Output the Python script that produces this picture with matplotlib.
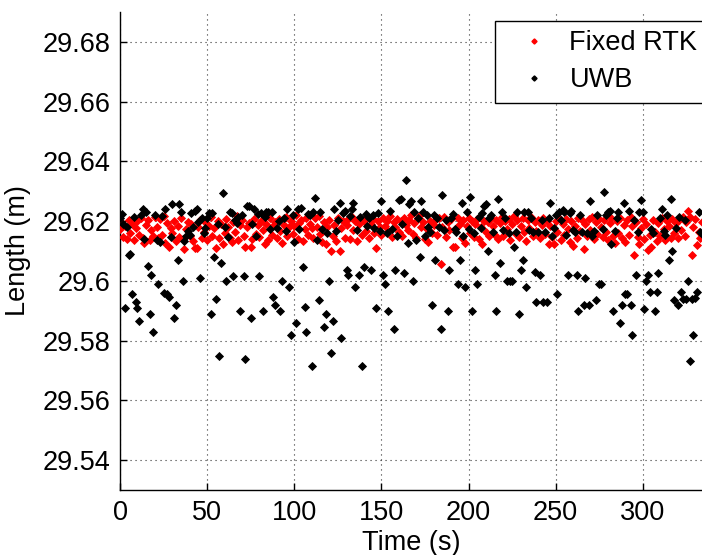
import numpy as np
import matplotlib
matplotlib.use("Agg")
import matplotlib.pyplot as plt
from matplotlib.lines import Line2D

plt.rcParams['font.family'] = ['Liberation Sans', 'DejaVu Sans']

# Fixed RTK length, one sample per second (t = 0..334)
rtk_values = [
    29.6172, 29.6195, 29.6148, 29.6183, 29.6140, 29.6205, 29.6160, 29.6190, 29.6138, 29.6176,
    29.6200, 29.6152, 29.6212, 29.6145, 29.6127, 29.6188, 29.6203, 29.6136, 29.6170, 29.6150,
    29.6215, 29.6180, 29.6142, 29.6208, 29.6155, 29.6218, 29.6127, 29.6195, 29.6115, 29.6178,
    29.6160, 29.6202, 29.6133, 29.6185, 29.6148, 29.6210, 29.6140, 29.6108, 29.6172, 29.6196,
    29.6150, 29.6190, 29.6135, 29.6110, 29.6110, 29.6182, 29.6205, 29.6145, 29.6165, 29.6198,
    29.6137, 29.6185, 29.6214, 29.6150, 29.6176, 29.6110, 29.6200, 29.6142, 29.6190, 29.6125,
    29.6160, 29.6207, 29.6180, 29.6143, 29.6130, 29.6196, 29.6165, 29.6218, 29.6138, 29.6186,
    29.6203, 29.6150, 29.6114, 29.6180, 29.6194, 29.6114, 29.6141, 29.6208, 29.6158, 29.6188,
    29.6146, 29.6200, 29.6170, 29.6125, 29.6192, 29.6137, 29.6211, 29.6155, 29.6183, 29.6198,
    29.6142, 29.6206, 29.6168, 29.6128, 29.6188, 29.6213, 29.6150, 29.6179, 29.6201, 29.6156,
    29.6185, 29.6220, 29.6140, 29.6193, 29.6204, 29.6135, 29.6172, 29.6209, 29.6152, 29.6190,
    29.6176, 29.6143, 29.6210, 29.6182, 29.6216, 29.6157, 29.6130, 29.6198, 29.6122, 29.6180,
    29.6204, 29.6099, 29.6150, 29.6188, 29.6134, 29.6210, 29.6099, 29.6177, 29.6199, 29.6145,
    29.6186, 29.6207, 29.6140, 29.6215, 29.6170, 29.6200, 29.6133, 29.6190, 29.6212, 29.6152,
    29.6201, 29.6168, 29.6214, 29.6143, 29.6192, 29.6206, 29.6160, 29.6110, 29.6199, 29.6182,
    29.6155, 29.6210, 29.6185, 29.6200, 29.6166, 29.6216, 29.6148, 29.6196, 29.6179, 29.6208,
    29.6163, 29.6199, 29.6150, 29.6212, 29.6187, 29.6170, 29.6205, 29.6220, 29.6158, 29.6193,
    29.6145, 29.6209, 29.6222, 29.6180, 29.6196, 29.6140, 29.6175, 29.6130, 29.6201, 29.6160,
    29.6186, 29.6203, 29.6152, 29.6211, 29.6057, 29.6182, 29.6214, 29.6148, 29.6197, 29.6170,
    29.6206, 29.6115, 29.6115, 29.6178, 29.6210, 29.6190, 29.6143, 29.6204, 29.6128, 29.6185,
    29.6212, 29.6160, 29.6199, 29.6147, 29.6190, 29.6208, 29.6139, 29.6180, 29.6124, 29.6202,
    29.6165, 29.6196, 29.6150, 29.6212, 29.6184, 29.6155, 29.6205, 29.6140, 29.6193, 29.6215,
    29.6150, 29.6200, 29.6172, 29.6207, 29.6138, 29.6190, 29.6216, 29.6158, 29.6203, 29.6146,
    29.6184, 29.6209, 29.6163, 29.6135, 29.6204, 29.6178, 29.6215, 29.6150, 29.6197, 29.6168,
    29.6205, 29.6142, 29.6188, 29.6212, 29.6157, 29.6200, 29.6125, 29.6183, 29.6148, 29.6125,
    29.6199, 29.6164, 29.6210, 29.6137, 29.6190, 29.6152, 29.6206, 29.6175, 29.6130, 29.6201,
    29.6118, 29.6185, 29.6145, 29.6211, 29.6167, 29.6203, 29.6106, 29.6192, 29.6150, 29.6207,
    29.6170, 29.6213, 29.6140, 29.6198, 29.6158, 29.6208, 29.6180, 29.6146, 29.6204, 29.6163,
    29.6138, 29.6194, 29.6212, 29.6150, 29.6126, 29.6200, 29.6160, 29.6209, 29.6142, 29.6186,
    29.6130, 29.6203, 29.6155, 29.6214, 29.6183, 29.6087, 29.6198, 29.6148, 29.6125, 29.6176,
    29.6206, 29.6140, 29.6190, 29.6104, 29.6155, 29.6115, 29.6203, 29.6165, 29.6132, 29.6195,
    29.6150, 29.6210, 29.6172, 29.6138, 29.6200, 29.6185, 29.6145, 29.6207, 29.6160, 29.6193,
    29.6142, 29.6204, 29.6170, 29.6213, 29.6150, 29.6196, 29.6235, 29.6215, 29.6087, 29.6180,
    29.6208, 29.6120, 29.6165, 29.6145, 29.6198,
]

# UWB length, main band, one sample per second (t = 0..334)
uwb_band = [
    29.6210, 29.6225, 29.6190, 29.6150, 29.6182, 29.6205, 29.6228, 29.6160, 29.6215, 29.6175,
    29.6145, 29.6200, 29.6220, 29.6239, 29.6140, 29.6232, 29.6170, 29.6212, 29.6158, 29.6196,
    29.6222, 29.6138, 29.6180, 29.6130, 29.6218, 29.6205, 29.6240, 29.6195, 29.6162, 29.6148,
    29.6257, 29.6152, 29.6190, 29.6215, 29.6257, 29.6230, 29.6142, 29.6135, 29.6150, 29.6168,
    29.6155, 29.6228, 29.6180, 29.6235, 29.6240, 29.6198, 29.6175, 29.6212, 29.6160, 29.6178,
    29.6210, 29.6227, 29.6158, 29.6227, 29.6222, 29.6215, 29.6190, 29.6232, 29.6165, 29.6295,
    29.6180, 29.6225, 29.6148, 29.6230, 29.6226, 29.6160, 29.6205, 29.6195, 29.6215, 29.6150,
    29.6220, 29.6170, 29.6232, 29.6250, 29.6250, 29.6165, 29.6192, 29.6240, 29.6150, 29.6225,
    29.6168, 29.6228, 29.6190, 29.6215, 29.6230, 29.6230, 29.6172, 29.6230, 29.6205, 29.6218,
    29.6178, 29.6200, 29.6160, 29.6222, 29.6210, 29.6168, 29.6240, 29.6155, 29.6205, 29.6220,
    29.6131, 29.6150, 29.6240, 29.6172, 29.6245, 29.6210, 29.6158, 29.6140, 29.6225, 29.6222,
    29.6205, 29.6230, 29.6278, 29.6138, 29.6228, 29.6232, 29.6175, 29.6165, 29.6220, 29.6160,
    29.6215, 29.6148, 29.6225, 29.6240, 29.6168, 29.6205, 29.6260, 29.6212, 29.6228, 29.6235,
    29.6200, 29.6165, 29.6218, 29.6240, 29.6260, 29.6180, 29.6170, 29.6235, 29.6215, 29.6160,
    29.6210, 29.6225, 29.6185, 29.6212, 29.6170, 29.6220, 29.6178, 29.6228, 29.6228, 29.6168,
    29.6267, 29.6205, 29.6220, 29.6160, 29.6230, 29.6235, 29.6175, 29.6218, 29.6170, 29.6150,
    29.6270, 29.6275, 29.6190, 29.6225, 29.6337, 29.6127, 29.6257, 29.6267, 29.6215, 29.6230,
    29.6138, 29.6210, 29.6172, 29.6267, 29.6230, 29.6150, 29.6222, 29.6180, 29.6165, 29.6212,
    29.6222, 29.6175, 29.6210, 29.6180, 29.6162, 29.6287, 29.6170, 29.6205, 29.6218, 29.6160,
    29.6210, 29.6225, 29.6172, 29.6165, 29.6158, 29.6212, 29.6260, 29.6150, 29.6220, 29.6232,
    29.6175, 29.6280, 29.6168, 29.6160, 29.6225, 29.6170, 29.6215, 29.6178, 29.6228, 29.6250,
    29.6257, 29.6160, 29.6210, 29.6222, 29.6165, 29.6178, 29.6215, 29.6275, 29.6205, 29.6232,
    29.6170, 29.6210, 29.6222, 29.6160, 29.6233, 29.6175, 29.6212, 29.6165, 29.6230, 29.6215,
    29.6178, 29.6160, 29.6232, 29.6212, 29.6230, 29.6170, 29.6210, 29.6165, 29.6222, 29.6232,
    29.6162, 29.6230, 29.6205, 29.6220, 29.6165, 29.6232, 29.6212, 29.6260, 29.6150, 29.6178,
    29.6222, 29.6168, 29.6232, 29.6205, 29.6236, 29.6230, 29.6155, 29.6215, 29.6226, 29.6233,
    29.6170, 29.6162, 29.6210, 29.6232, 29.6222, 29.6165, 29.6205, 29.6218, 29.6160, 29.6175,
    29.6267, 29.6150, 29.6168, 29.6210, 29.6220, 29.6165, 29.6212, 29.6172, 29.6297, 29.6222,
    29.6232, 29.6233, 29.6124, 29.6215, 29.6168, 29.6210, 29.6232, 29.6160, 29.6178, 29.6260,
    29.6222, 29.6170, 29.6233, 29.6158, 29.6212, 29.6205, 29.6225, 29.6165, 29.6232, 29.6270,
    29.6230, 29.6215, 29.6165, 29.6210, 29.6222, 29.6175, 29.6160, 29.6218, 29.6172, 29.6168,
    29.6210, 29.6240, 29.6168, 29.6155, 29.6222, 29.6228, 29.6275, 29.6210, 29.6165, 29.6178,
    29.6232, 29.6215, 29.6165, 29.6223, 29.6205, 29.6170, 29.6212, 29.6160, 29.6225, 29.6232,
    29.6170, 29.6210, 29.6232, 29.6165, 29.6158,
]

# UWB samples that fall below the main band (second, length)
uwb_low_t = [3, 5, 6, 7, 9, 10, 11, 16, 17, 18, 19, 22, 25, 27, 28, 31, 32, 33, 36, 46,
             52, 54, 55, 57, 58, 61, 65, 69, 71, 72, 75, 80, 82, 88, 89, 92, 93, 97, 98, 101,
             105, 106, 107, 110, 114, 117, 118, 120, 121, 122, 127, 130, 131, 135, 137, 139, 140, 144, 147, 151,
             152, 154, 157, 158, 163, 168, 172, 179, 181, 184, 188, 189, 194, 195, 198, 202, 204, 205, 211, 215,
             216, 218, 222, 224, 225, 226, 229, 230, 231, 233, 238, 239, 241, 243, 245, 251, 257, 262, 263, 266,
             267, 269, 273, 275, 276, 283, 287, 288, 290, 291, 293, 294, 296, 301, 302, 303, 304, 307, 308, 309,
             315, 317, 318, 320, 322, 323, 325, 326, 327, 328, 329, 330, 331]
uwb_low_v = [29.5910, 29.6087, 29.6090, 29.5956, 29.5930, 29.5908, 29.5867, 29.6050, 29.5890, 29.6018,
             29.5830, 29.5990, 29.5959, 29.5955, 29.5947, 29.5877, 29.5920, 29.6070, 29.5998, 29.6010,
             29.5890, 29.6080, 29.5938, 29.5748, 29.6060, 29.5998, 29.6017, 29.5900, 29.6017, 29.5740,
             29.5875, 29.6017, 29.5900, 29.5947, 29.5920, 29.5900, 29.5998, 29.5979, 29.5819, 29.5858,
             29.6048, 29.5914, 29.5830, 29.5716, 29.5936, 29.5847, 29.5890, 29.5998, 29.5759, 29.5867,
             29.5810, 29.6037, 29.6020, 29.5980, 29.6020, 29.5716, 29.6048, 29.6037, 29.5908, 29.6020,
             29.5990, 29.5900, 29.5839, 29.6037, 29.6026, 29.5998, 29.6080, 29.5920, 29.6070, 29.5838,
             29.5900, 29.6037, 29.5990, 29.6070, 29.5979, 29.5900, 29.6037, 29.5990, 29.6099, 29.6018,
             29.5900, 29.6060, 29.5998, 29.5998, 29.5998, 29.6115, 29.5890, 29.6037, 29.6070, 29.5980,
             29.6030, 29.5930, 29.6020, 29.5930, 29.5930, 29.5956, 29.6020, 29.6020, 29.5900, 29.5920,
             29.6010, 29.5920, 29.5935, 29.5990, 29.5990, 29.5900, 29.5858, 29.5920, 29.5956, 29.5956,
             29.5920, 29.5820, 29.6020, 29.5907, 29.5998, 29.6020, 29.5964, 29.5900, 29.5964, 29.6026,
             29.6070, 29.6099, 29.5936, 29.5920, 29.5964, 29.5938, 29.5938, 29.5998, 29.5733, 29.5938,
             29.5820, 29.5942, 29.5964]

x_ticks = [0, 50, 100, 150, 200, 250, 300]
y_ticks = [29.54, 29.56, 29.58, 29.60, 29.62, 29.64, 29.66, 29.68]
y_tick_labels = ['29.54', '29.56', '29.58', '29.6', '29.62', '29.64', '29.66', '29.68']

rtk = np.array(rtk_values)
t_rtk = np.arange(len(rtk))
uwb = np.array(uwb_band)
uwb[np.array(uwb_low_t)] = np.array(uwb_low_v)
t_uwb = np.arange(len(uwb))

FS = 19.5

fig = plt.figure(figsize=(7.02, 5.55), dpi=100)
ax = fig.add_axes([120/702, 65/555, 582/702, 478/555])

ax.plot(t_rtk, rtk, linestyle='none', marker='D', ms=4.0, mfc='#ff0000', mec='#ff0000', mew=0.6, zorder=3)
ax.plot(t_uwb, uwb, linestyle='none', marker='D', ms=4.0, mfc='black', mec='black', mew=0.6, zorder=4)

ax.set_xlim(0, 334)
ax.set_ylim(29.53, 29.69)
ax.set_xticks(x_ticks)
ax.set_yticks(y_ticks)
ax.set_yticklabels(y_tick_labels)
ax.tick_params(direction='in', length=5, width=1, labelsize=FS, pad=7, colors='black')
ax.grid(True, color='#333333', linestyle=(0, (1, 3.5)), linewidth=0.8)
ax.set_axisbelow(True)
for s in ['top', 'right']:
    ax.spines[s].set_visible(False)
for s in ['left', 'bottom']:
    ax.spines[s].set_linewidth(1.0)
    ax.spines[s].set_color('black')

ax.set_xlabel('Time (s)', fontsize=FS, labelpad=3)
ax.set_ylabel('Length (m)', fontsize=FS, labelpad=8)

handles = [Line2D([], [], linestyle='none', marker='D', ms=2.6, mfc='#ff0000', mec='#ff0000'),
           Line2D([], [], linestyle='none', marker='D', ms=2.6, mfc='black', mec='black')]
leg = fig.legend(handles, ['Fixed RTK', 'UWB'], loc='upper left',
                 bbox_to_anchor=(495/702, 1 - 21/555), bbox_transform=fig.transFigure,
                 fontsize=FS, frameon=True, fancybox=False, framealpha=1,
                 edgecolor='black', handlelength=2.2, handletextpad=0.2,
                 labelspacing=0.4, borderpad=0.35, borderaxespad=0)
leg.get_frame().set_linewidth(1.0)

fig.savefig('out.png', dpi=100)
